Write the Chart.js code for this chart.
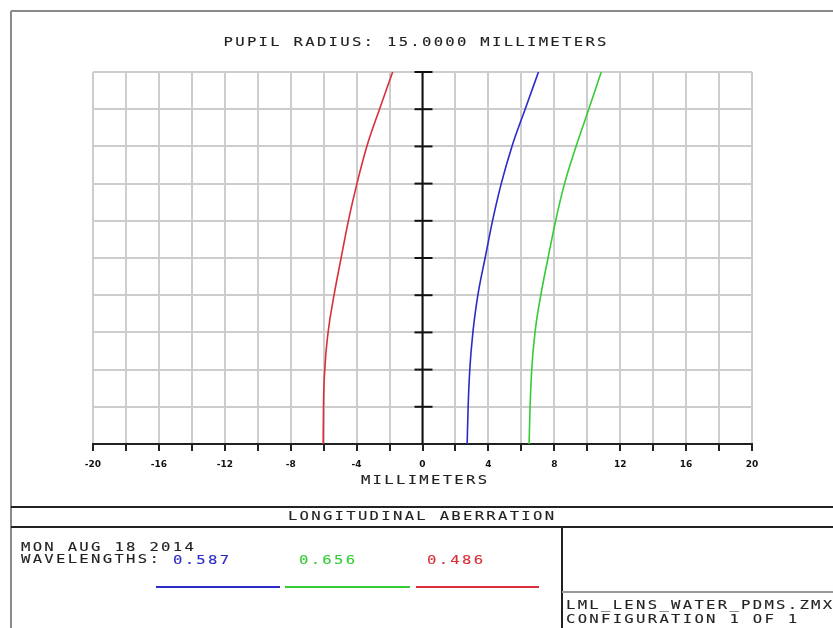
<!DOCTYPE html>
<html>
<head>
<meta charset="utf-8">
<script src="https://cdn.jsdelivr.net/npm/chart.js@4"></script>
<style>
  body { margin: 0; background: #fff; }
  canvas { display: block; }
</style>
</head>
<body>
<canvas id="grafico" width="833" height="628"></canvas>
<script>
// relative pupil height (0 = axis, 1 = full pupil)
const pupil = [0, 0.1, 0.2, 0.3, 0.4, 0.5, 0.6, 0.7, 0.8, 0.9, 1.0]

// longitudinal focus shift in mm, one list per wavelength
const wave587 = [2.71, 2.77, 2.87, 3.06, 3.36, 3.80, 4.25, 4.78, 5.43, 6.23, 7.04]
const wave656 = [6.47, 6.53, 6.63, 6.83, 7.18, 7.62, 8.08, 8.62, 9.32, 10.09, 10.85]
const wave486 = [-6.03, -6.01, -5.93, -5.73, -5.37, -4.94, -4.50, -3.98, -3.38, -2.61, -1.81]

const wavelengths = ["0.587", "0.656", "0.486"]
const colores = ["#2b2bc8", "#35cc35", "#d8303a"]
const xTicks = [-20, -16, -12, -8, -4, 0, 4, 8, 12, 16, 20]

const MONO = '"DejaVu Sans Mono", "Liberation Mono", monospace'

function puntos(serie) {
  return pupil.map((p, i) => ({ x: serie[i], y: p }))
}

// wide, evenly spaced plotter style text
function texto(ctx, s, x, y, align, color) {
  const sx = 1.2
  const sp = 1.9
  ctx.save()
  ctx.font = "13px " + MONO
  ctx.letterSpacing = sp + "px"
  ctx.fillStyle = color
  ctx.strokeStyle = color
  ctx.lineWidth = 0.12
  ctx.textBaseline = "middle"
  ctx.textAlign = "left"
  const w = (ctx.measureText(s).width - sp) * sx
  let x0 = x
  if (align === "center") x0 = x - w / 2
  ctx.translate(x0, y)
  ctx.scale(sx, 1)
  ctx.fillText(s, 0, 0)
  ctx.strokeText(s, 0, 0)
  ctx.restore()
}

function linea(ctx, x1, y1, x2, y2, color, w) {
  ctx.strokeStyle = color
  ctx.lineWidth = w
  ctx.beginPath()
  ctx.moveTo(x1, y1)
  ctx.lineTo(x2, y2)
  ctx.stroke()
}

// white page, centre axis with its ticks, and the Zemax style frame + texts
const marco = {
  id: "marco",
  beforeDraw(chart) {
    const ctx = chart.ctx
    ctx.save()
    ctx.fillStyle = "#fff"
    ctx.fillRect(0, 0, chart.width, chart.height)
    ctx.restore()
  },
  beforeDatasetsDraw(chart) {
    const ctx = chart.ctx
    const xs = chart.scales.x
    const ys = chart.scales.y
    const x0 = xs.getPixelForValue(0)
    ctx.save()
    linea(ctx, x0, ys.getPixelForValue(0), x0, ys.getPixelForValue(1), "#111", 2)
    pupil.slice(1).forEach(p => {
      const y = ys.getPixelForValue(p)
      linea(ctx, x0 - 8, y, x0 + 10, y, "#111", 2)
    })
    ctx.restore()
  },
  afterDraw(chart) {
    const ctx = chart.ctx
    const W = chart.width
    const H = chart.height
    ctx.save()
    // frame
    linea(ctx, 11, 11, W, 11, "#8a8a8a", 2)
    linea(ctx, 11, 11, 11, H, "#8a8a8a", 2)
    linea(ctx, 11, 507, W, 507, "#222", 2)
    linea(ctx, 11, 527, W, 527, "#222", 2)
    linea(ctx, 562, 527, 562, H, "#222", 2)
    linea(ctx, 562, 592, W, 592, "#9a9a9a", 2)

    const negro = "#222"
    texto(ctx, "PUPIL RADIUS: 15.0000 MILLIMETERS", 415, 43, "center", negro)
    texto(ctx, "MILLIMETERS", 424, 481, "center", negro)
    texto(ctx, "LONGITUDINAL ABERRATION", 421, 517, "center", negro)
    texto(ctx, "MON AUG 18 2014", 21, 548, "left", negro)
    texto(ctx, "WAVELENGTHS:", 21, 560, "left", negro)
    const centros = [201, 327, 455]
    const tramos = [[156, 280], [285, 410], [416, 539]]
    wavelengths.forEach((w, i) => {
      texto(ctx, w, centros[i], 561, "center", colores[i])
      linea(ctx, tramos[i][0], 587, tramos[i][1], 587, colores[i], 2)
    })
    texto(ctx, "LML_LENS_WATER_PDMS.ZMX", 566, 606, "left", negro)
    texto(ctx, "CONFIGURATION 1 OF 1", 566, 620, "left", negro)
    ctx.restore()
  },
}

const data = {
  datasets: [
    { label: wavelengths[0], data: puntos(wave587), borderColor: colores[0] },
    { label: wavelengths[1], data: puntos(wave656), borderColor: colores[1] },
    { label: wavelengths[2], data: puntos(wave486), borderColor: colores[2] },
  ].map(d => ({ ...d, showLine: true, borderWidth: 1.6, pointRadius: 0, cubicInterpolationMode: "monotone", fill: false })),
}

const config = {
  type: "scatter",
  data: data,
  options: {
    responsive: false,
    animation: false,
    layout: { padding: { left: 93, right: 81, top: 72, bottom: 154 } },
    plugins: {
      legend: { display: false },
      title: { display: false },
      tooltip: { enabled: false },
    },
    scales: {
      x: {
        min: -20,
        max: 20,
        afterFit: s => { s.height = 30 },
        afterBuildTicks: s => { s.ticks = Array.from({ length: 21 }, (_, i) => ({ value: -20 + 2 * i })) },
        ticks: {
          autoSkip: false,
          maxRotation: 0,
          padding: 8,
          color: "#111",
          font: { family: "DejaVu Sans", size: 9, weight: "bold" },
          callback: v => (xTicks.includes(v) ? String(v) : ""),
        },
        grid: { color: "#cdcdcd", lineWidth: 2, tickColor: "#222", tickLength: 7, tickWidth: 2 },
        border: { color: "#222", width: 2 },
      },
      y: {
        min: 0,
        max: 1,
        afterFit: s => { s.width = 0 },
        ticks: { display: false, stepSize: 0.1 },
        grid: { color: "#cdcdcd", lineWidth: 2, drawTicks: false },
        border: { display: false },
      },
    },
  },
  plugins: [marco],
}

new Chart(document.querySelector("#grafico"), config)
</script>
</body>
</html>
